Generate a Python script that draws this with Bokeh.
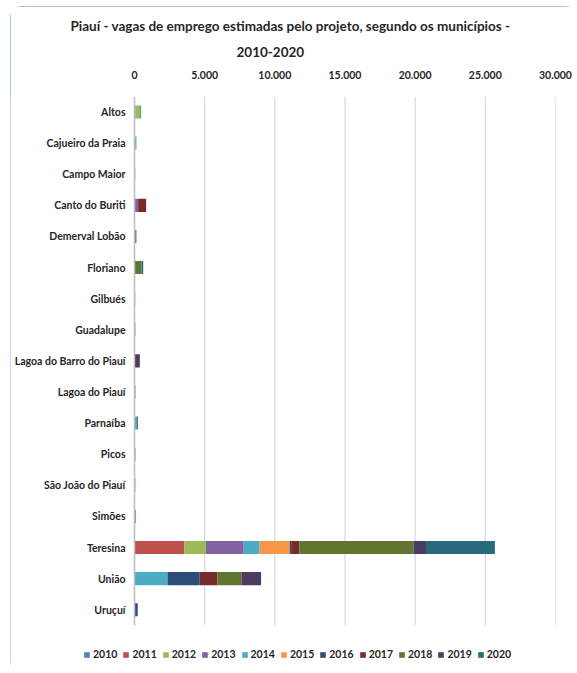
from bokeh.plotting import figure
from bokeh.models import (Range1d, FixedTicker, Legend, LegendItem, ColumnDataSource, Title)
from bokeh.core.properties import value
from bokeh.embed import file_html
from bokeh.resources import INLINE

municipios = ["Altos", "Cajueiro da Praia", "Campo Maior", "Canto do Buriti", "Demerval Lobão",
              "Floriano", "Gilbués", "Guadalupe", "Lagoa do Barro do Piauí", "Lagoa do Piauí",
              "Parnaíba", "Picos", "São João do Piauí", "Simões", "Teresina", "União", "Uruçuí"]
anos = ["2010", "2011", "2012", "2013", "2014", "2015", "2016", "2017", "2018", "2019", "2020"]

y2010 = [0, 0, 0, 0, 0, 0, 0, 0, 0, 70, 0, 0, 0, 0, 0, 0, 0]
y2011 = [0, 0, 0, 0, 0, 0, 0, 0, 0, 0, 0, 0, 60, 90, 3560, 0, 0]
y2012 = [420, 0, 60, 0, 0, 0, 0, 0, 0, 0, 0, 0, 0, 0, 1520, 0, 0]
y2013 = [0, 70, 0, 260, 140, 0, 0, 0, 0, 0, 0, 0, 0, 0, 2700, 0, 0]
y2014 = [0, 70, 0, 0, 0, 0, 0, 0, 0, 0, 180, 0, 0, 0, 1140, 2350, 0]
y2015 = [0, 0, 0, 0, 0, 0, 60, 0, 0, 0, 0, 0, 0, 0, 2140, 0, 0]
y2016 = [0, 0, 0, 0, 0, 0, 0, 0, 0, 0, 0, 0, 0, 0, 100, 2300, 230]
y2017 = [0, 0, 0, 570, 0, 0, 0, 0, 0, 0, 0, 0, 0, 0, 590, 1260, 0]
y2018 = [0, 0, 0, 0, 0, 500, 0, 60, 0, 0, 70, 0, 0, 0, 8140, 1710, 0]
y2019 = [0, 0, 0, 0, 0, 0, 0, 0, 380, 0, 0, 60, 0, 0, 880, 1400, 0]
y2020 = [50, 0, 0, 0, 0, 120, 0, 0, 0, 0, 0, 0, 0, 0, 4910, 0, 0]

tick_values = [0, 5000, 10000, 15000, 20000, 25000, 30000]
tick_labels = ["0", "5.000", "10.000", "15.000", "20.000", "25.000", "30.000"]

titulo_1 = "Piauí - vagas de emprego estimadas pelo projeto, segundo os municípios -"
titulo_2 = "2010-2020"

cores = ["#4F81BD", "#C0504D", "#9BBB59", "#8064A2", "#4BACC6", "#F79646",
         "#2C4D75", "#772C2A", "#5F7530", "#4D3B62", "#276A7C"]

series = [y2010, y2011, y2012, y2013, y2014, y2015, y2016, y2017, y2018, y2019, y2020]
n = len(municipios)
# category slots, first municipality on top
ypos = [n - 1 - i for i in range(n)]
data = {"municipio": municipios, "ypos": ypos}
for a, s in zip(anos, series):
    data[a] = s
source = ColumnDataSource(data)

FONT = "Lato"
TXT = "#262626"

cat_top = n - 0.5
cat_bottom = -0.5

p = figure(width=567, height=667, output_backend="svg", toolbar_location=None,
           x_range=Range1d(-8836, 30000), y_range=Range1d(-1.89, cat_top),
           x_axis_location="above", y_axis_location=None,
           min_border_left=0, min_border_right=22, min_border_top=90, min_border_bottom=5)
p.title.text = ""
p.title.visible = False
p.styles = {"margin-left": "10px", "margin-top": "6px",
            "outline": "1.5px solid #8DB0DD", "outline-offset": "-1px",
            "border-radius": "11px"}
p.outline_line_color = None
p.xgrid.grid_line_color = None
p.ygrid.grid_line_color = None

# vertical gridlines over the category area only
p.segment(x0=tick_values, x1=tick_values, y0=cat_bottom, y1=cat_top,
          line_color="#D9D9D9", line_width=1.2)

renderers = p.hbar_stack(anos, y="ypos", height=0.42, color=cores, source=source,
                         line_color=None)

# category axis line
p.segment(x0=[0], x1=[0], y0=[cat_bottom], y1=[cat_top], line_color="#BFBFBF", line_width=1.5)

# category labels
p.text(x=0, y="ypos", text="municipio", source=source, x_offset=-9,
       text_align="right", text_baseline="middle", text_font=value(FONT),
       text_font_style="bold", text_font_size="10.5px", text_color=TXT)

xa = p.xaxis[0]
xa.ticker = FixedTicker(ticks=tick_values)
xa.major_label_overrides = {v: l for v, l in zip(tick_values, tick_labels)}
xa.axis_line_color = None
xa.major_tick_line_color = None
xa.major_tick_out = 0
xa.major_tick_in = 0
xa.minor_tick_line_color = None
xa.major_label_standoff = 18
xa.major_label_text_font = FONT
xa.major_label_text_font_style = "bold"
xa.major_label_text_font_size = "10.5px"
xa.major_label_text_color = TXT

t2 = Title(text=titulo_2, align="left", offset=226, text_font=FONT, text_font_size="13.5px",
           text_font_style="bold", text_color=TXT, standoff=22)
t1 = Title(text=titulo_1, align="left", offset=60, text_font=FONT, text_font_size="13.5px",
           text_font_style="bold", text_color=TXT, standoff=0)
p.add_layout(t2, "above")
p.add_layout(t1, "above")

items = [LegendItem(label=a, renderers=[r]) for a, r in zip(anos, renderers)]
legend = Legend(items=items, orientation="horizontal", location=(73, 8),
                glyph_width=7, glyph_height=7, spacing=5, label_standoff=3, label_height=12,
                label_text_font=FONT, label_text_font_style="bold", label_text_font_size="10.5px",
                label_text_color=TXT, background_fill_alpha=0, border_line_color=None,
                padding=0, margin=0)
p.add_layout(legend)

open("out.html", "w").write(file_html(p, INLINE))
